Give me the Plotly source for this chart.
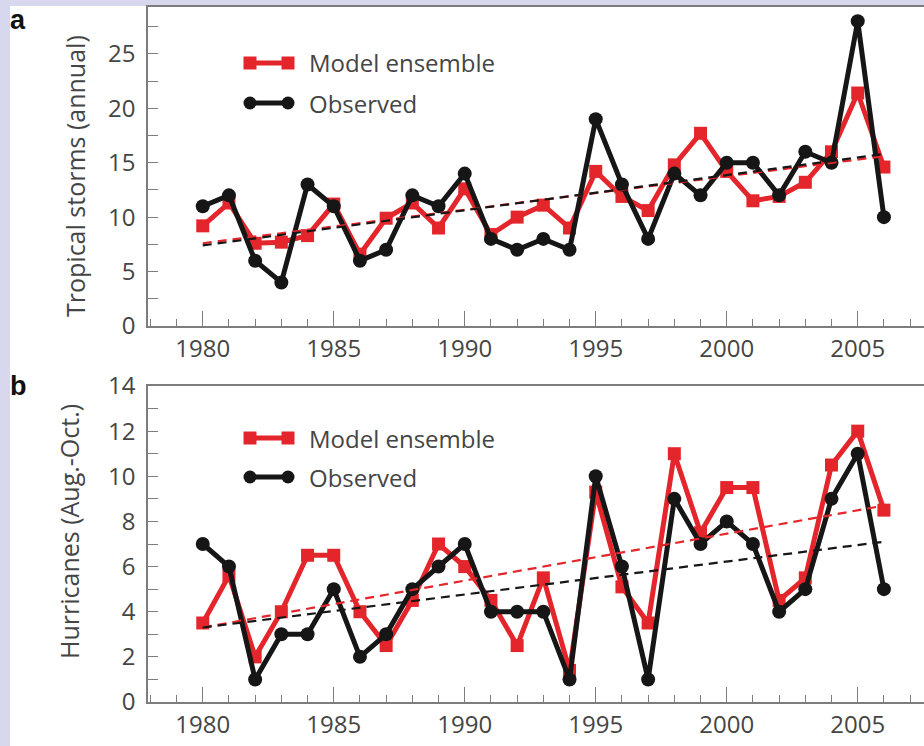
import plotly.graph_objects as go

years = list(range(1980, 2007))
storms_obs = [11, 12, 6, 4, 13, 11, 6, 7, 12, 11, 14, 8, 7, 8, 7, 19, 13, 8, 14, 12, 15, 15, 12, 16, 15, 28, 10]
storms_model = [9.2, 11.3, 7.6, 7.7, 8.3, 11.2, 6.6, 9.9, 11.3, 9.0, 12.6, 8.4, 10.0, 11.1, 9.0, 14.2,
                11.9, 10.6, 14.8, 17.7, 14.2, 11.5, 11.9, 13.2, 16.0, 21.4, 14.6]
hurr_obs = [7, 6, 1, 3, 3, 5, 2, 3, 5, 6, 7, 4, 4, 4, 1, 10, 6, 1, 9, 7, 8, 7, 4, 5, 9, 11, 5]
hurr_model = [3.5, 5.6, 2.0, 4.0, 6.5, 6.5, 4.0, 2.5, 4.5, 7.0, 6.0, 4.5, 2.5, 5.5, 1.4, 9.3,
              5.1, 3.5, 11.0, 7.5, 9.5, 9.5, 4.5, 5.5, 10.5, 12.0, 8.5]
trend_years = [1980, 2006]
storms_obs_trend = [7.4, 15.8]
storms_model_trend = [7.6, 15.6]
hurr_obs_trend = [3.3, 7.1]
hurr_model_trend = [3.3, 8.7]

legend_labels = ["Model ensemble", "Observed"]
panel_letters = ["a", "b"]
y_titles = ["Tropical storms (annual)", "Hurricanes (Aug.-Oct.)"]

RED = "#e4262c"
BLACK = "#161616"
AXIS = "#7d7d7d"
TXT = "#454545"
FONT = "Open Sans"

W, H = 924, 746
ML, MR, MT, MB = 148, 0, 7, 44
PW = W - ML - MR
PH = H - MT - MB


def py(p):
    return (H - MB - p) / PH


fig = go.Figure()

panels = [
    ("x", "y", storms_model, storms_obs, storms_model_trend, storms_obs_trend),
    ("x2", "y2", hurr_model, hurr_obs, hurr_model_trend, hurr_obs_trend),
]
for xa, ya, model, obs, mt, ot in panels:
    fig.add_trace(go.Scatter(x=years, y=model, xaxis=xa, yaxis=ya, mode="lines+markers",
                             line=dict(color=RED, width=5),
                             marker=dict(symbol="square", size=13, color=RED),
                             showlegend=False, cliponaxis=False))
    fig.add_trace(go.Scatter(x=years, y=obs, xaxis=xa, yaxis=ya, mode="lines+markers",
                             line=dict(color=BLACK, width=5),
                             marker=dict(symbol="circle", size=14, color=BLACK),
                             showlegend=False, cliponaxis=False))
    fig.add_trace(go.Scatter(x=trend_years, y=mt, xaxis=xa, yaxis=ya, mode="lines",
                             line=dict(color=RED, width=2.2, dash="9px,6px"), showlegend=False))
    fig.add_trace(go.Scatter(x=trend_years, y=ot, xaxis=xa, yaxis=ya, mode="lines",
                             line=dict(color=BLACK, width=2.2, dash="9px,6px"), showlegend=False))

dom_a = [py(326), 1.0]
dom_b = [0.0, py(386)]
xrange = [1977.91, 2007.53]

xcommon = dict(range=xrange, showline=True, linecolor=AXIS, linewidth=1.5, mirror=True,
               ticks="inside", ticklen=15, tickwidth=1.3, tickcolor=AXIS, automargin=False,
               tick0=1980, dtick=5, showgrid=False, zeroline=False,
               tickfont=dict(family=FONT, size=24, color=TXT), ticklabelstandoff=0,
               minor=dict(ticks="inside", ticklen=7, tickwidth=1.3, tickcolor=AXIS, dtick=1, tick0=1980,
                          showgrid=False))
ycommon = dict(showline=True, linecolor=AXIS, linewidth=1.5, ticks="inside", ticklen=10,
               tickwidth=1.3, tickcolor=AXIS, showgrid=False, zeroline=False, automargin=False,
               tickfont=dict(family=FONT, size=24, color=TXT), ticklabelstandoff=6)

fig.update_layout(
    width=W, height=H,
    margin=dict(l=ML, r=MR, t=MT, b=MB),
    paper_bgcolor="#d7d8ee", plot_bgcolor="rgba(0,0,0,0)",
    xaxis=dict(domain=[0, 1], anchor="y", **xcommon),
    yaxis=dict(domain=dom_a, anchor="x", range=[0, 29.3], tick0=0, dtick=5,
               minor=dict(ticks="inside", ticklen=10, tickwidth=1.3, tickcolor=AXIS, dtick=2.5,
                          tick0=0, showgrid=False), **ycommon),
    xaxis2=dict(domain=[0, 1], anchor="y2", **xcommon),
    yaxis2=dict(domain=dom_b, anchor="x2", range=[0, 14], tick0=0, dtick=2,
                minor=dict(ticks="inside", ticklen=10, tickwidth=1.3, tickcolor=AXIS, dtick=1,
                           tick0=0, showgrid=False), **ycommon),
    showlegend=False,
)

shapes = [dict(type="rect", xref="paper", yref="paper", x0=(10 - ML) / PW, x1=1.0,
               y0=py(H), y1=py(6), fillcolor="white", line=dict(width=0), layer="below")]
annotations = []

# custom legend keys (line with marker at both ends)
leg_x0 = (250 - ML) / PW
leg_x1 = (288 - ML) / PW
leg_tx = (307 - ML) / PW
leg_pix = [[63, 103], [438, 477]]
for i in range(2):
    for j, pyv in enumerate(leg_pix[i]):
        yv = py(pyv)
        col = RED if j == 0 else BLACK
        shapes.append(dict(type="line", xref="paper", yref="paper", x0=leg_x0, x1=leg_x1, y0=yv, y1=yv,
                           line=dict(color=col, width=5)))
        for xv in (leg_x0, leg_x1):
            shapes.append(dict(type="rect" if j == 0 else "circle", xref="paper", yref="paper",
                               xsizemode="pixel", ysizemode="pixel", xanchor=xv, yanchor=yv,
                               x0=-6.5, x1=6.5, y0=-6.5, y1=6.5, fillcolor=col, line=dict(width=0)))
        annotations.append(dict(text=legend_labels[j], xref="paper", yref="paper", x=leg_tx, y=yv,
                                xanchor="left", yanchor="middle", showarrow=False,
                                font=dict(family=FONT, size=24, color=TXT)))

# panel letters
for letter, pyv in zip(panel_letters, [20, 386]):
    annotations.append(dict(text="<b>" + letter + "</b>", xref="paper", yref="paper",
                            x=(8 - ML) / PW, y=py(pyv), xanchor="left", yanchor="middle",
                            showarrow=False, font=dict(family="Liberation Sans", size=27, color="#111")))

# y axis titles
for t, (cx, cy) in zip(y_titles, [(75, 176), (69, 532)]):
    annotations.append(dict(text=t, xref="paper", yref="paper", x=(cx - ML) / PW, y=py(cy),
                            xanchor="center", yanchor="middle", textangle=-90, showarrow=False,
                            font=dict(family=FONT, size=25, color=TXT)))

fig.update_layout(shapes=shapes, annotations=annotations)
fig.write_html("out.html", config={"displayModeBar": False},
               post_script="document.body.style.margin='0';document.body.style.padding='0';")
